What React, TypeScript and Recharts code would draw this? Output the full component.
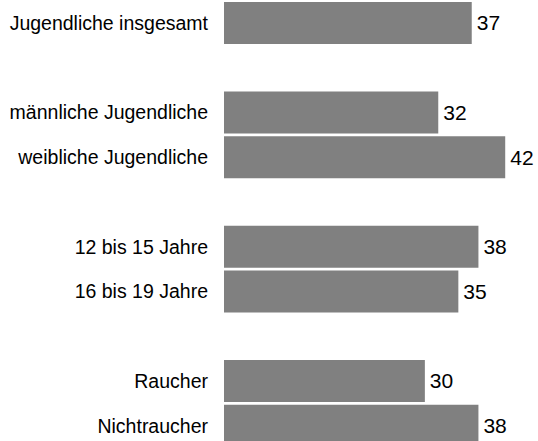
import React from "react";
import { BarChart, Bar, XAxis, YAxis, LabelList } from "recharts";

const categories = [
  "Jugendliche insgesamt",
  "",
  "männliche Jugendliche",
  "weibliche Jugendliche",
  "",
  "12 bis 15 Jahre",
  "16 bis 19 Jahre",
  "",
  "Raucher",
  "Nichtraucher",
];
const values: (number | null)[] = [37, null, 32, 42, null, 38, 35, null, 30, 38];

const data = categories.map((label, i) => ({ key: `c${i}`, label, value: values[i] }));

const FONT = "'Liberation Sans', Arial, Helvetica, sans-serif";

export default function App() {
  return (
    <div style={{ position: "absolute", left: 0, top: 0, width: 538, height: 441, overflow: "hidden", background: "#fff" }}>
      <BarChart
        width={538}
        height={448}
        data={data}
        layout="vertical"
        margin={{ top: 0.5, right: 6, bottom: 0, left: 0 }}
        barCategoryGap="3.4%"
      >
        <XAxis type="number" domain={[0, 46]} hide />
        <YAxis
          type="category"
          dataKey="key"
          width={224}
          axisLine={false}
          tickLine={false}
          tickSize={0}
          tickMargin={16}
          interval={0}
          tickFormatter={(_k: string, i: number) => categories[i]}
          tick={{ fill: "#000", fontSize: 19.5, fontFamily: FONT }}
        />
        <Bar dataKey="value" fill="#808080" isAnimationActive={false}>
          <LabelList
            dataKey="value"
            position="right"
            offset={5}
            style={{ fill: "#000", fontSize: 21, fontFamily: FONT }}
          />
        </Bar>
      </BarChart>
    </div>
  );
}
